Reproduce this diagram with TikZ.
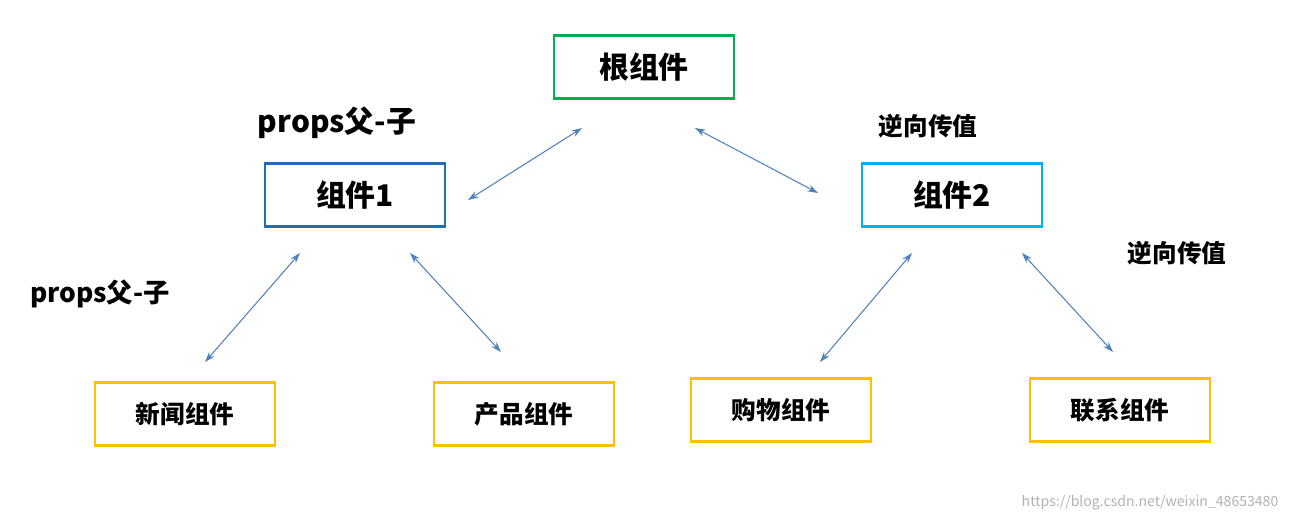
\documentclass[tikz,border=0pt]{standalone}
\usepackage{fontspec}
\setmainfont{Noto Sans CJK SC}
\usetikzlibrary{arrows.meta}
\definecolor{rootgreen}{HTML}{00B050}
\definecolor{darkblue}{HTML}{1F6FB5}
\definecolor{lightblue}{HTML}{00B0F0}
\definecolor{childgold}{HTML}{FFC000}
\definecolor{arrowblue}{HTML}{4F81BD}
\tikzset{
  box/.style = {draw, line width=1.6pt, minimum width=3.6cm, minimum height=1.26cm, font=\fontsize{17}{20}\selectfont\bfseries},
  small/.style = {box, draw=childgold, font=\fontsize{14}{17}\selectfont\bfseries},
  link/.style = {draw=arrowblue, line width=0.6pt, {Stealth[length=6pt,width=4pt]}-{Stealth[length=6pt,width=4pt]}},
  note/.style = {font=\bfseries}
}
\begin{document}
\begin{tikzpicture}[x=0.02cm,y=-0.02cm]
                \useasboundingbox (0,0) rectangle (1299,522);
                % boxes
                \node[box, draw=rootgreen] (root) at (644,67) {根组件};
                \node[box, draw=darkblue] (c1) at (355,195) {组件1};
                \node[box, draw=lightblue] (c2) at (952,195) {组件2};
                \node[small] (news) at (185,414) {新闻组件};
                \node[small] (prod) at (524,414) {产品组件};
                \node[small] (shop) at (781,410) {购物组件};
                \node[small] (link) at (1120,410) {联系组件};
                % arrow ends
                \coordinate (a1) at (468,200); \coordinate (b1) at (582,128);
                \coordinate (a2) at (695,128); \coordinate (b2) at (818,193);
                \coordinate (a3) at (300,253); \coordinate (b3) at (205,362);
                \coordinate (a4) at (410,253); \coordinate (b4) at (501,352);
                \coordinate (a5) at (912,253); \coordinate (b5) at (820,362);
                \coordinate (a6) at (1022,253); \coordinate (b6) at (1113,352);
                \foreach \i in {1,...,6}
                    \draw[link] (a\i) -- (b\i);
                % labels
                \node[note, font=\fontsize{17}{20}\selectfont\bfseries] (l1) at (337,123) {props父-子};
                \node[note, font=\fontsize{15}{18}\selectfont\bfseries] (l2) at (100,294) {props父-子};
                \node[note, font=\fontsize{14}{17}\selectfont\bfseries] (l3) at (928,126) {逆向传值};
                \node[note, font=\fontsize{14}{17}\selectfont\bfseries] (l4) at (1177,253) {逆向传值};
                \node[text=gray!60, font=\fontsize{8}{10}\selectfont] (wm) at (1150,503) {https://blog.csdn.net/weixin\_48653480};
\end{tikzpicture}
\end{document}
